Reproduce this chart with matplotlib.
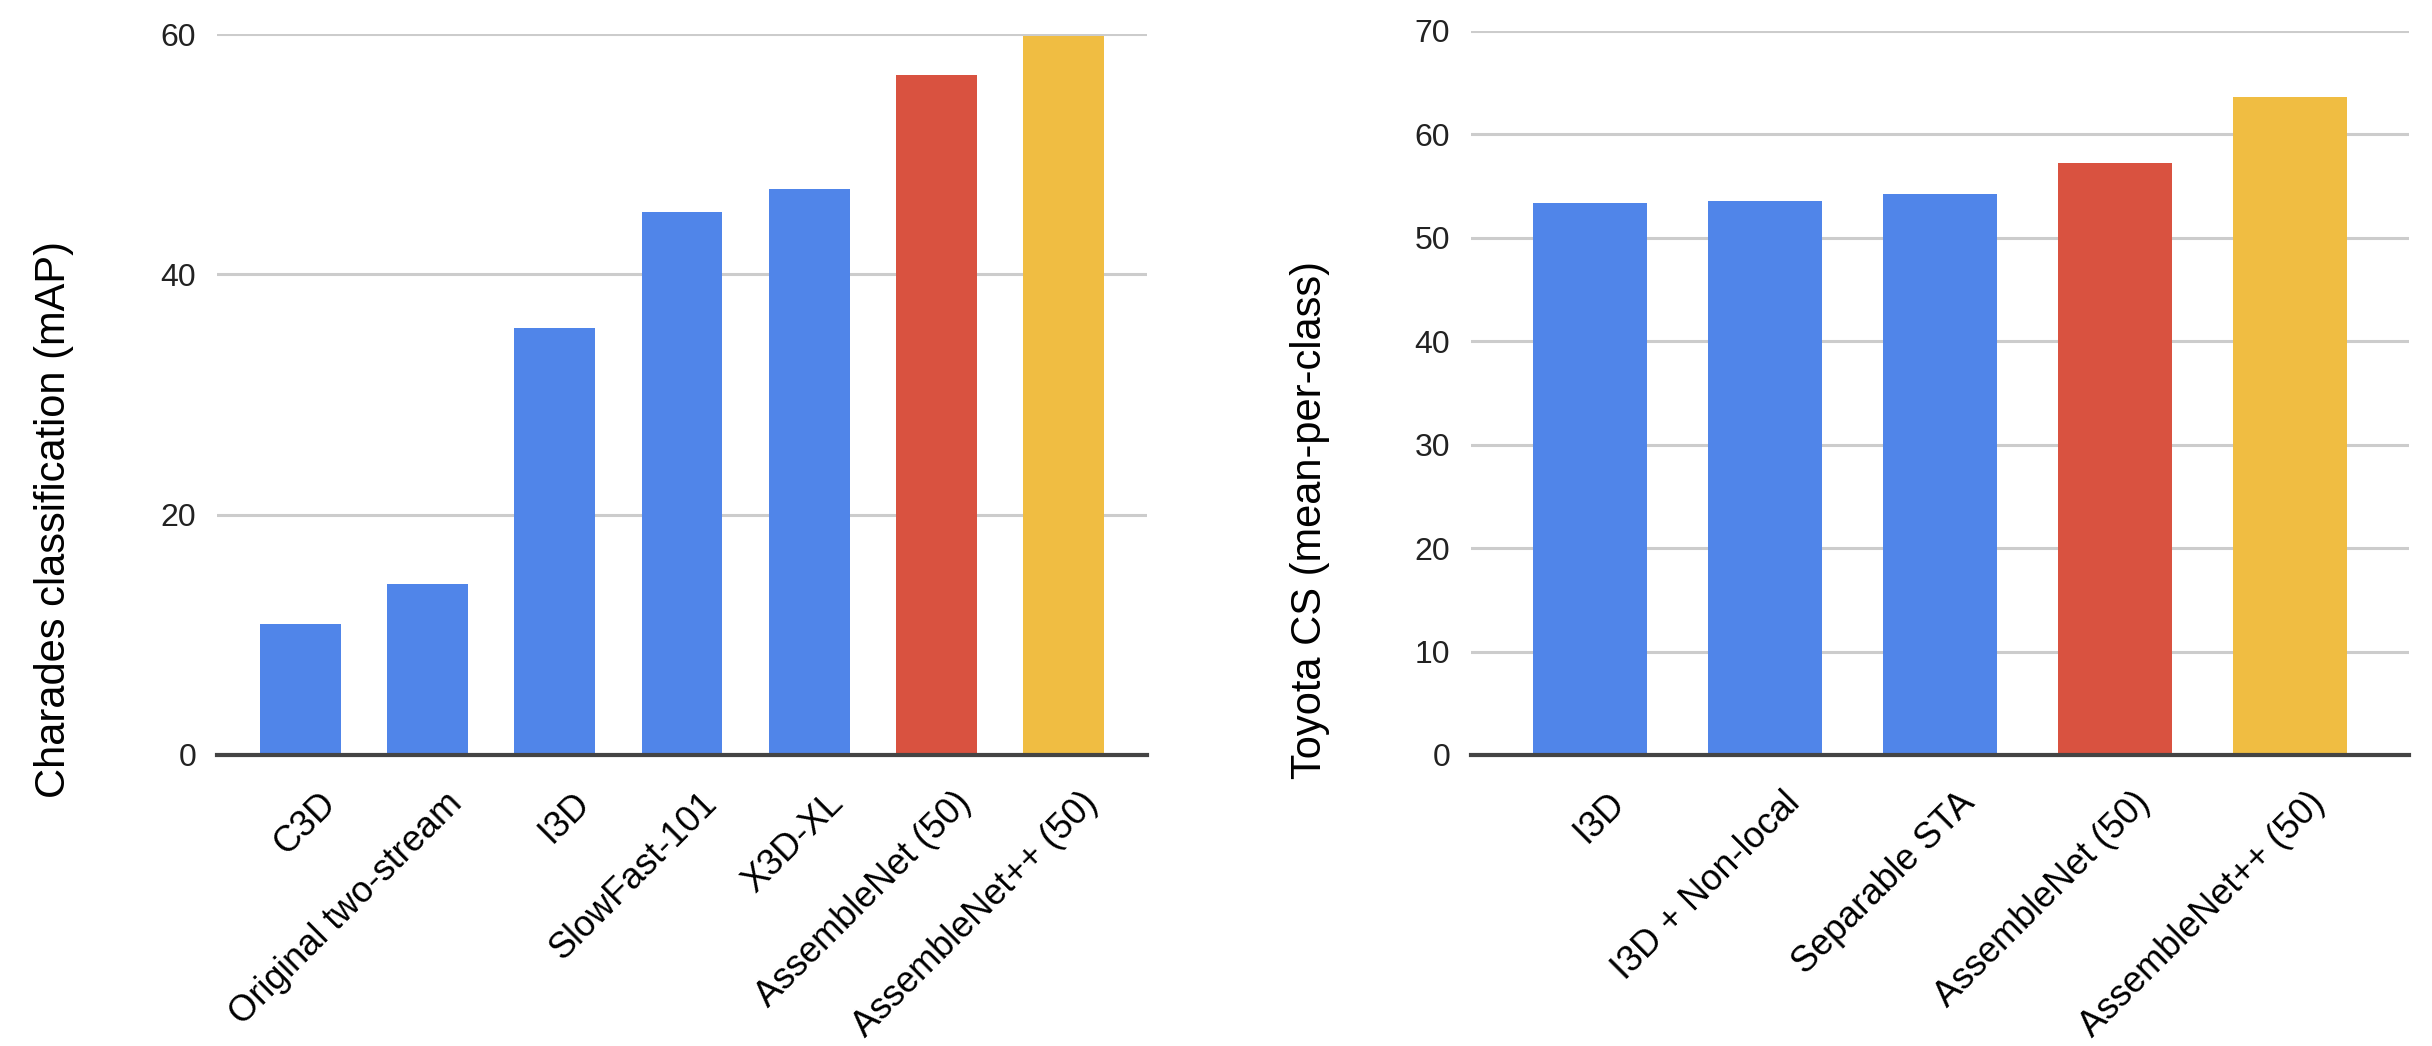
import matplotlib
matplotlib.use("Agg")
import matplotlib.pyplot as plt
from matplotlib.transforms import ScaledTranslation

plt.rcParams['font.family'] = ['Liberation Sans', 'DejaVu Sans']

# left chart: Charades
charades_models = ['C3D', 'Original two-stream', 'I3D', 'SlowFast-101', 'X3D-XL',
                   'AssembleNet (50)', 'AssembleNet++ (50)']
charades_map = [10.9, 14.2, 35.5, 45.2, 47.1, 56.6, 59.8]
charades_ticks = [0, 20, 40, 60]

# right chart: Toyota Smarthome
toyota_models = ['I3D', 'I3D + Non-local', 'Separable STA', 'AssembleNet (50)',
                 'AssembleNet++ (50)']
toyota_acc = [53.4, 53.6, 54.2, 57.2, 63.6]
toyota_ticks = [0, 10, 20, 30, 40, 50, 60, 70]

blue = '#5085E9'
red = '#D95240'
yellow = '#F0BD42'


def colors_for(n):
    return [blue] * (n - 2) + [red, yellow]


def style(ax, names, vals, ticks, width, xpad):
    x = list(range(len(names)))
    ax.bar(x, vals, width=width, color=colors_for(len(names)), zorder=3)
    ax.set_ylim(ticks[0], ticks[-1])
    ax.set_yticks(ticks)
    ax.set_xlim(-xpad, len(names) - 1 + xpad)
    ax.yaxis.grid(True, color='#CCCCCC', lw=2.2, zorder=0)
    ax.set_axisbelow(True)
    ax.axhline(0, color='#444444', lw=3, zorder=4, clip_on=False)
    for s in ax.spines.values():
        s.set_visible(False)
    ax.tick_params(axis='y', length=0, pad=15, labelsize=23, labelcolor='#222222')
    ax.tick_params(axis='x', length=0, pad=22, labelsize=26)
    ax.set_xticks(x)
    ax.set_xticklabels(names, rotation=45, ha='right', va='top', rotation_mode='anchor')
    off = ScaledTranslation(17 / 100, 0, ax.figure.dpi_scale_trans)
    for lab in ax.get_xticklabels():
        lab.set_transform(lab.get_transform() + off)


fig = plt.figure(figsize=(24.32, 10.46), dpi=100)
ax1 = fig.add_axes([217 / 2432, 1 - 755 / 1046, 930 / 2432, 721 / 1046])
ax2 = fig.add_axes([1471 / 2432, 1 - 755 / 1046, 938 / 2432, 724 / 1046])

style(ax1, charades_models, charades_map, charades_ticks, 0.637, 0.66)
style(ax2, toyota_models, toyota_acc, toyota_ticks, 0.65, 0.68)

fig.text(54 / 2432, 1 - 520 / 1046, 'Charades classification (mAP)', rotation=90,
         ha='center', va='center', fontsize=30)
fig.text(1310 / 2432, 1 - 520 / 1046, 'Toyota CS (mean-per-class)', rotation=90,
         ha='center', va='center', fontsize=30)

fig.savefig('out.png', dpi=100, facecolor='white')
